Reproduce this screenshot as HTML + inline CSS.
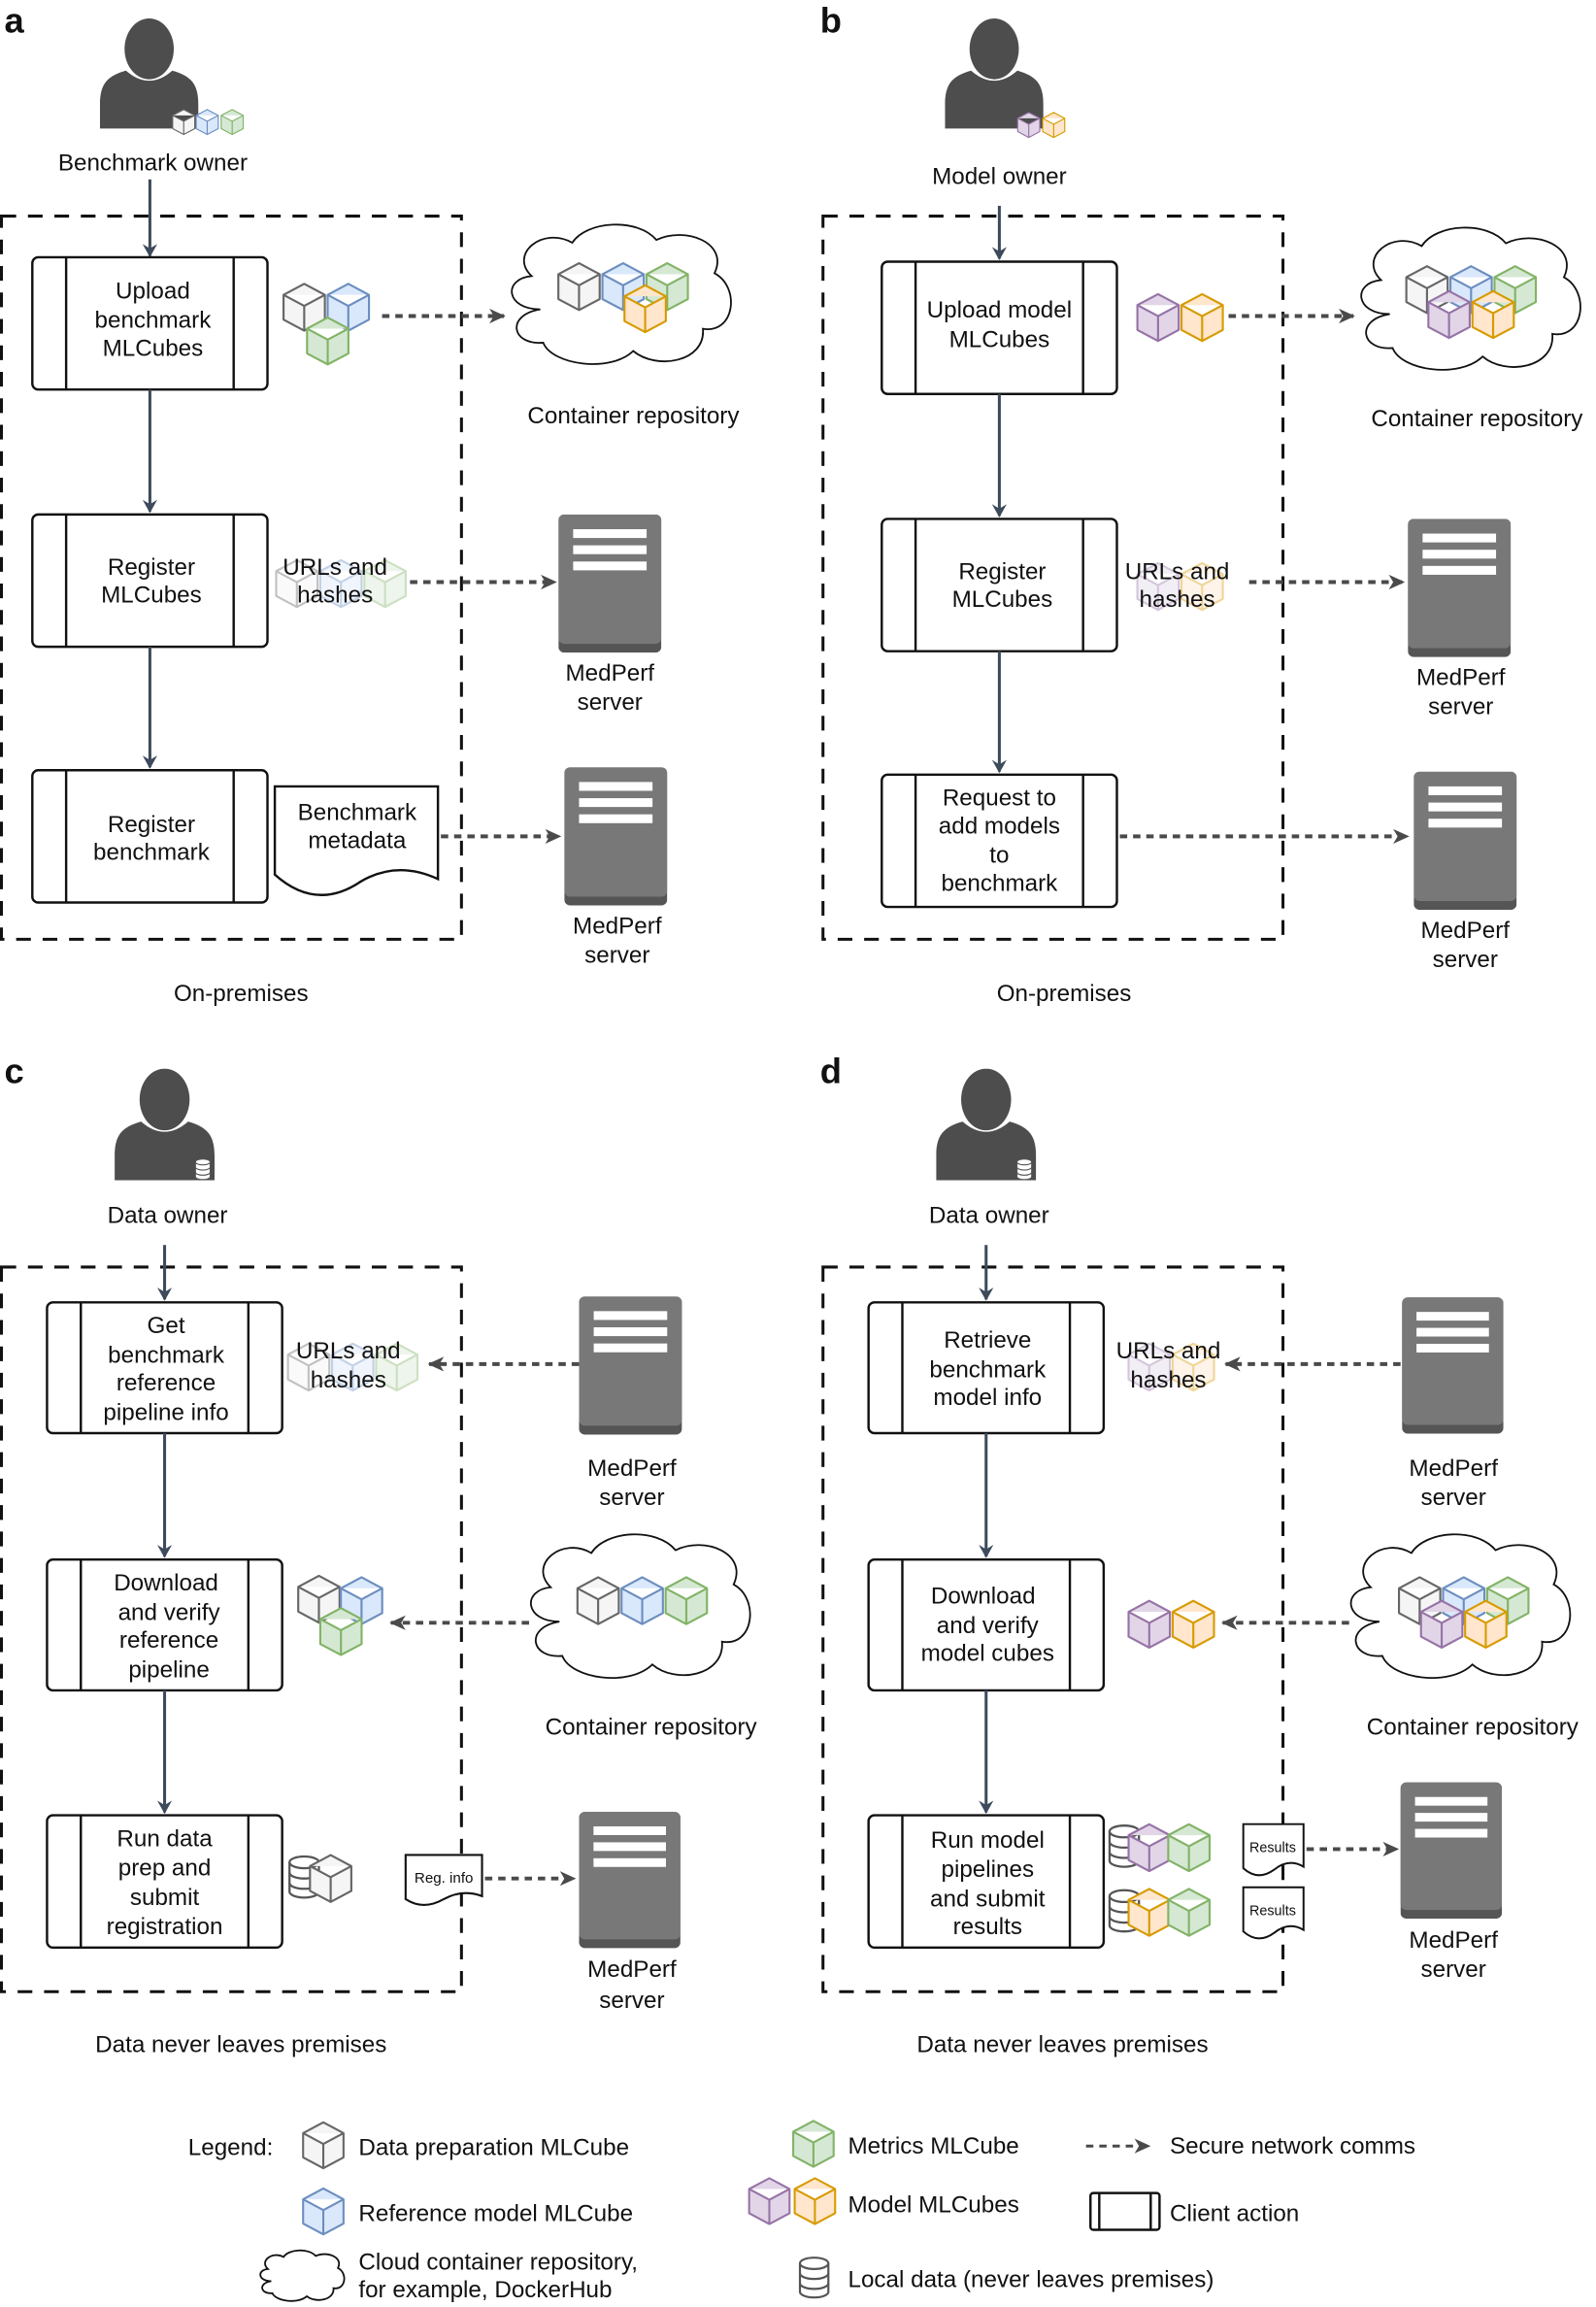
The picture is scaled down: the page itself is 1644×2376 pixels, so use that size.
<!DOCTYPE html>
<html><head><meta charset="utf-8"><style>
html,body{margin:0;padding:0;background:#fff;}
svg{display:block;}
text{font-family:"Liberation Sans",sans-serif;fill:#111;font-size:16px;}
.c{text-anchor:middle;}
.lbl{font-weight:bold;font-size:24px;}
.box{fill:#fff;stroke:#111;stroke-width:1.6;}
.ln{stroke:#111;stroke-width:1.6;}
.dash{fill:none;stroke:#111;stroke-width:2;stroke-dasharray:10,8;}
.sa{stroke:#3d4a5c;stroke-width:2;fill:none;}
.da{stroke:#4a4a4a;stroke-width:2.6;stroke-dasharray:5,4;fill:none;}
</style></head><body>
<svg width="1644" height="2376" viewBox="0 0 1086 1569.5" xmlns="http://www.w3.org/2000/svg">
<defs>
<marker id="ms" markerWidth="10" markerHeight="10" refX="8" refY="5" orient="auto" markerUnits="userSpaceOnUse"><path d="M0,0 L9,5 L0,10 L3,5 Z" fill="#3d4a5c"/></marker>
<marker id="md" markerWidth="12" markerHeight="12" refX="10" refY="6" orient="auto" markerUnits="userSpaceOnUse"><path d="M0,1 L11,6 L0,11 L3,6 Z" fill="#4a4a4a"/></marker>
<symbol id="cube" viewBox="-1 -1 32 36" overflow="visible"><path d="M15,0 L30,8 L30,26 L15,34 L0,26 L0,8 Z M0,8 L15,16 L30,8 M15,16 L15,34" stroke-linejoin="round"/></symbol>
<symbol id="person" viewBox="0 0 68 76"><ellipse cx="34" cy="21" rx="17" ry="21" fill="#4d4d4d"/><path d="M0,76 V60 C0,46 4,40 18,36 Q34,50 50,36 C64,40 68,46 68,60 V76 Z" fill="#4d4d4d"/></symbol>
<symbol id="server" viewBox="0 0 70 94"><rect x="0" y="0" width="70" height="94" rx="4" fill="#555"/><rect x="0" y="0" width="70" height="88" rx="4" fill="#787878"/><rect x="10" y="10" width="50" height="6" fill="#fff"/><rect x="10" y="21" width="50" height="6" fill="#fff"/><rect x="10" y="32" width="50" height="6" fill="#fff"/></symbol>
<symbol id="cloud" viewBox="0 -2 164 108" preserveAspectRatio="none" overflow="visible"><path d="M28,62 C4,62 2,40 22,38 C6,22 30,2 50,14 C60,-2 95,-4 108,12 C128,2 158,14 148,36 C166,46 162,80 140,76 C142,100 108,106 92,92 C76,108 36,102 30,86 C8,88 4,66 28,62 Z" fill="#fff" stroke="#111" stroke-width="1.8" vector-effect="non-scaling-stroke"/></symbol>
<symbol id="db" viewBox="0 0 22 30" overflow="visible"><path d="M1,5 V25 A10,4 0 0 0 21,25 V5" fill="#fff" stroke="#555" stroke-width="1.5"/><ellipse cx="11" cy="5" rx="10" ry="4" fill="#fff" stroke="#555" stroke-width="1.5"/><path d="M1,12 A10,4 0 0 0 21,12 M1,19 A10,4 0 0 0 21,19" fill="none" stroke="#555" stroke-width="1.5"/></symbol>
</defs>

<!-- ============ PANEL A ============ -->
<text x="3" y="22" class="lbl">a</text>
<use href="#person" x="68" y="12" width="67" height="76"/>
<g stroke-width="1.5"><use href="#cube" x="117" y="74" width="16" height="18" fill="#f5f5f5" stroke="#666"/><use href="#cube" x="133" y="74" width="16" height="18" fill="#dae8fc" stroke="#6c8ebf"/><use href="#cube" x="150" y="74" width="16" height="18" fill="#d5e8d4" stroke="#82b366"/></g>
<text x="104" y="116" class="c">Benchmark owner</text>
<rect x="1" y="147" width="313" height="492" class="dash"/>
<line x1="102" y1="122" x2="102" y2="174" class="sa" marker-end="url(#ms)"/>
<g><rect x="22" y="175" width="160" height="90" rx="4" class="box"/><line x1="45" y1="175" x2="45" y2="265" class="ln"/><line x1="159" y1="175" x2="159" y2="265" class="ln"/>
<text x="104" y="203" class="c">Upload</text><text x="104" y="223" class="c">benchmark</text><text x="104" y="242" class="c">MLCubes</text></g>
<line x1="102" y1="265" x2="102" y2="348" class="sa" marker-end="url(#ms)"/>
<g><rect x="22" y="350" width="160" height="90" rx="4" class="box"/><line x1="45" y1="350" x2="45" y2="440" class="ln"/><line x1="159" y1="350" x2="159" y2="440" class="ln"/>
<text x="103" y="391" class="c">Register</text><text x="103" y="410" class="c">MLCubes</text></g>
<line x1="102" y1="440" x2="102" y2="522" class="sa" marker-end="url(#ms)"/>
<g><rect x="22" y="524" width="160" height="90" rx="4" class="box"/><line x1="45" y1="524" x2="45" y2="614" class="ln"/><line x1="159" y1="524" x2="159" y2="614" class="ln"/>
<text x="103" y="566" class="c">Register</text><text x="103" y="585" class="c">benchmark</text></g>
<g stroke-width="1.5"><use href="#cube" x="192" y="192" width="30" height="34" fill="#f5f5f5" stroke="#666"/><use href="#cube" x="222" y="192" width="30" height="34" fill="#dae8fc" stroke="#6c8ebf"/><use href="#cube" x="208" y="215" width="30" height="34" fill="#d5e8d4" stroke="#82b366"/></g>
<line x1="260" y1="215" x2="343" y2="215" class="da" marker-end="url(#md)"/>
<use href="#cloud" x="340" y="150" width="162" height="102"/>
<g stroke-width="1.5"><use href="#cube" x="379" y="178" width="30" height="34" fill="#f5f5f5" stroke="#666"/><use href="#cube" x="409" y="178" width="30" height="34" fill="#dae8fc" stroke="#6c8ebf"/><use href="#cube" x="439" y="178" width="30" height="34" fill="#d5e8d4" stroke="#82b366"/><use href="#cube" x="424" y="193" width="30" height="34" fill="#ffe6cc" stroke="#d79b00"/></g>
<text x="431" y="288" class="c">Container repository</text>
<g stroke-width="1.5" opacity="0.4"><use href="#cube" x="187" y="380" width="30" height="34" fill="#f5f5f5" stroke="#666"/><use href="#cube" x="217" y="380" width="30" height="34" fill="#dae8fc" stroke="#6c8ebf"/><use href="#cube" x="247" y="380" width="30" height="34" fill="#d5e8d4" stroke="#82b366"/></g>
<text x="228" y="391" class="c">URLs and</text><text x="228" y="410" class="c">hashes</text>
<line x1="279" y1="396" x2="378" y2="396" class="da" marker-end="url(#md)"/>
<use href="#server" x="380" y="350" width="70" height="94"/>
<text x="415" y="463" class="c">MedPerf</text><text x="415" y="483" class="c">server</text>
<path d="M187,535 H298 V598 Q270,585 245,600 Q215,620 187,595 Z" fill="#fff" stroke="#111" stroke-width="1.6"/>
<text x="243" y="558" class="c">Benchmark</text><text x="243" y="577" class="c">metadata</text>
<line x1="300" y1="569" x2="381" y2="569" class="da" marker-end="url(#md)"/>
<use href="#server" x="384" y="522" width="70" height="94"/>
<text x="420" y="635" class="c">MedPerf</text><text x="420" y="655" class="c">server</text>
<text x="164" y="681" class="c">On-premises</text>

<!-- ============ PANEL B ============ -->
<text x="558" y="22" class="lbl">b</text>
<use href="#person" x="643" y="12" width="67" height="76"/>
<g stroke-width="1.5"><use href="#cube" x="692" y="76" width="16" height="18" fill="#e1d5e7" stroke="#9673a6"/><use href="#cube" x="709" y="76" width="16" height="18" fill="#ffe6cc" stroke="#d79b00"/></g>
<text x="680" y="125" class="c">Model owner</text>
<rect x="560" y="147" width="313" height="492" class="dash"/>
<line x1="680" y1="140" x2="680" y2="176" class="sa" marker-end="url(#ms)"/>
<g><rect x="600" y="178" width="160" height="90" rx="4" class="box"/><line x1="623" y1="178" x2="623" y2="268" class="ln"/><line x1="737" y1="178" x2="737" y2="268" class="ln"/>
<text x="680" y="216" class="c">Upload model</text><text x="680" y="236" class="c">MLCubes</text></g>
<line x1="680" y1="268" x2="680" y2="351" class="sa" marker-end="url(#ms)"/>
<g><rect x="600" y="353" width="160" height="90" rx="4" class="box"/><line x1="623" y1="353" x2="623" y2="443" class="ln"/><line x1="737" y1="353" x2="737" y2="443" class="ln"/>
<text x="682" y="394" class="c">Register</text><text x="682" y="413" class="c">MLCubes</text></g>
<line x1="680" y1="443" x2="680" y2="525" class="sa" marker-end="url(#ms)"/>
<g><rect x="600" y="527" width="160" height="90" rx="4" class="box"/><line x1="623" y1="527" x2="623" y2="617" class="ln"/><line x1="737" y1="527" x2="737" y2="617" class="ln"/>
<text x="680" y="548" class="c">Request to</text><text x="680" y="567" class="c">add models</text><text x="680" y="587" class="c">to</text><text x="680" y="606" class="c">benchmark</text></g>
<g stroke-width="1.5"><use href="#cube" x="773" y="199" width="30" height="34" fill="#e1d5e7" stroke="#9673a6"/><use href="#cube" x="803" y="199" width="30" height="34" fill="#ffe6cc" stroke="#d79b00"/></g>
<line x1="836" y1="215" x2="921" y2="215" class="da" marker-end="url(#md)"/>
<use href="#cloud" x="918" y="152" width="162" height="104"/>
<g stroke-width="1.5"><use href="#cube" x="956" y="180" width="30" height="34" fill="#f5f5f5" stroke="#666"/><use href="#cube" x="986" y="180" width="30" height="34" fill="#dae8fc" stroke="#6c8ebf"/><use href="#cube" x="1016" y="180" width="30" height="34" fill="#d5e8d4" stroke="#82b366"/><use href="#cube" x="971" y="197" width="30" height="34" fill="#e1d5e7" stroke="#9673a6"/><use href="#cube" x="1001" y="197" width="30" height="34" fill="#ffe6cc" stroke="#d79b00"/></g>
<text x="1005" y="290" class="c">Container repository</text>
<g stroke-width="1.5" opacity="0.4"><use href="#cube" x="773" y="382" width="30" height="34" fill="#e1d5e7" stroke="#9673a6"/><use href="#cube" x="803" y="382" width="30" height="34" fill="#ffe6cc" stroke="#d79b00"/></g>
<text x="801" y="394" class="c">URLs and</text><text x="801" y="413" class="c">hashes</text>
<line x1="850" y1="396" x2="955" y2="396" class="da" marker-end="url(#md)"/>
<use href="#server" x="958" y="353" width="70" height="94"/>
<text x="994" y="466" class="c">MedPerf</text><text x="994" y="486" class="c">server</text>
<line x1="762" y1="569" x2="958" y2="569" class="da" marker-end="url(#md)"/>
<use href="#server" x="962" y="525" width="70" height="94"/>
<text x="997" y="638" class="c">MedPerf</text><text x="997" y="658" class="c">server</text>
<text x="724" y="681" class="c">On-premises</text>

<!-- ============ PANEL C ============ -->
<text x="3" y="737" class="lbl">c</text>
<use href="#person" x="78" y="727" width="68" height="76"/>
<use href="#db" x="132" y="788" width="12" height="15"/>
<text x="114" y="832" class="c">Data owner</text>
<rect x="1" y="862" width="313" height="493" class="dash"/>
<line x1="112" y1="847" x2="112" y2="884" class="sa" marker-end="url(#ms)"/>
<g><rect x="32" y="886" width="160" height="89" rx="4" class="box"/><line x1="55" y1="886" x2="55" y2="975" class="ln"/><line x1="169" y1="886" x2="169" y2="975" class="ln"/>
<text x="113" y="907" class="c">Get</text><text x="113" y="927" class="c">benchmark</text><text x="113" y="946" class="c">reference</text><text x="113" y="966" class="c">pipeline info</text></g>
<line x1="112" y1="975" x2="112" y2="1059" class="sa" marker-end="url(#ms)"/>
<g><rect x="32" y="1061" width="160" height="89" rx="4" class="box"/><line x1="55" y1="1061" x2="55" y2="1150" class="ln"/><line x1="169" y1="1061" x2="169" y2="1150" class="ln"/>
<text x="113" y="1082" class="c">Download</text><text x="115" y="1102" class="c">and verify</text><text x="115" y="1121" class="c">reference</text><text x="115" y="1141" class="c">pipeline</text></g>
<line x1="112" y1="1150" x2="112" y2="1233" class="sa" marker-end="url(#ms)"/>
<g><rect x="32" y="1235" width="160" height="90" rx="4" class="box"/><line x1="55" y1="1235" x2="55" y2="1325" class="ln"/><line x1="169" y1="1235" x2="169" y2="1325" class="ln"/>
<text x="112" y="1256" class="c">Run data</text><text x="112" y="1276" class="c">prep and</text><text x="112" y="1296" class="c">submit</text><text x="112" y="1316" class="c">registration</text></g>
<g stroke-width="1.5" opacity="0.4"><use href="#cube" x="195" y="913" width="30" height="34" fill="#f5f5f5" stroke="#666"/><use href="#cube" x="225" y="913" width="30" height="34" fill="#dae8fc" stroke="#6c8ebf"/><use href="#cube" x="255" y="913" width="30" height="34" fill="#d5e8d4" stroke="#82b366"/></g>
<text x="237" y="924" class="c">URLs and</text><text x="237" y="944" class="c">hashes</text>
<line x1="394" y1="928" x2="292" y2="928" class="da" marker-end="url(#md)"/>
<use href="#server" x="394" y="882" width="70" height="94"/>
<text x="430" y="1004" class="c">MedPerf</text><text x="430" y="1024" class="c">server</text>
<g stroke-width="1.5"><use href="#cube" x="202" y="1071" width="30" height="34" fill="#f5f5f5" stroke="#666"/><use href="#cube" x="231" y="1072" width="30" height="34" fill="#dae8fc" stroke="#6c8ebf"/><use href="#cube" x="217" y="1093" width="30" height="34" fill="#d5e8d4" stroke="#82b366"/></g>
<line x1="360" y1="1104" x2="266" y2="1104" class="da" marker-end="url(#md)"/>
<use href="#cloud" x="353" y="1041" width="162" height="105"/>
<g stroke-width="1.5"><use href="#cube" x="392" y="1072" width="30" height="34" fill="#f5f5f5" stroke="#666"/><use href="#cube" x="422" y="1072" width="30" height="34" fill="#dae8fc" stroke="#6c8ebf"/><use href="#cube" x="452" y="1072" width="30" height="34" fill="#d5e8d4" stroke="#82b366"/></g>
<text x="443" y="1180" class="c">Container repository</text>
<use href="#db" x="196" y="1262" width="22" height="30"/>
<g stroke-width="1.5"><use href="#cube" x="210" y="1261" width="30" height="34" fill="#f5f5f5" stroke="#666"/></g>
<path d="M276,1262 H328 V1290 Q315,1285 302,1292 Q288,1300 276,1292 Z" fill="#fff" stroke="#111" stroke-width="1.4"/>
<text x="302" y="1281" class="c" style="font-size:10px">Reg. info</text>
<line x1="330" y1="1278" x2="391" y2="1278" class="da" marker-end="url(#md)"/>
<use href="#server" x="394" y="1232" width="69" height="94"/>
<text x="430" y="1345" class="c">MedPerf</text><text x="430" y="1366" class="c">server</text>
<text x="164" y="1396" class="c">Data never leaves premises</text>

<!-- ============ PANEL D ============ -->
<text x="558" y="737" class="lbl">d</text>
<use href="#person" x="637" y="727" width="68" height="76"/>
<use href="#db" x="691" y="788" width="12" height="15"/>
<text x="673" y="832" class="c">Data owner</text>
<rect x="560" y="862" width="313" height="493" class="dash"/>
<line x1="671" y1="847" x2="671" y2="884" class="sa" marker-end="url(#ms)"/>
<g><rect x="591" y="886" width="160" height="89" rx="4" class="box"/><line x1="614" y1="886" x2="614" y2="975" class="ln"/><line x1="728" y1="886" x2="728" y2="975" class="ln"/>
<text x="672" y="917" class="c">Retrieve</text><text x="672" y="937" class="c">benchmark</text><text x="672" y="956" class="c">model info</text></g>
<line x1="671" y1="975" x2="671" y2="1059" class="sa" marker-end="url(#ms)"/>
<g><rect x="591" y="1061" width="160" height="89" rx="4" class="box"/><line x1="614" y1="1061" x2="614" y2="1150" class="ln"/><line x1="728" y1="1061" x2="728" y2="1150" class="ln"/>
<text x="669" y="1091" class="c">Download</text><text x="672" y="1111" class="c">and verify</text><text x="672" y="1130" class="c">model cubes</text></g>
<line x1="671" y1="1150" x2="671" y2="1233" class="sa" marker-end="url(#ms)"/>
<g><rect x="591" y="1235" width="160" height="90" rx="4" class="box"/><line x1="614" y1="1235" x2="614" y2="1325" class="ln"/><line x1="728" y1="1235" x2="728" y2="1325" class="ln"/>
<text x="672" y="1257" class="c">Run model</text><text x="672" y="1277" class="c">pipelines</text><text x="672" y="1297" class="c">and submit</text><text x="672" y="1316" class="c">results</text></g>
<g stroke-width="1.5" opacity="0.4"><use href="#cube" x="767" y="913" width="30" height="34" fill="#e1d5e7" stroke="#9673a6"/><use href="#cube" x="797" y="913" width="30" height="34" fill="#ffe6cc" stroke="#d79b00"/></g>
<text x="795" y="924" class="c">URLs and</text><text x="795" y="944" class="c">hashes</text>
<line x1="953" y1="928" x2="834" y2="928" class="da" marker-end="url(#md)"/>
<use href="#server" x="954" y="882" width="69" height="94"/>
<text x="989" y="1004" class="c">MedPerf</text><text x="989" y="1024" class="c">server</text>
<g stroke-width="1.5"><use href="#cube" x="767" y="1088" width="30" height="34" fill="#e1d5e7" stroke="#9673a6"/><use href="#cube" x="797" y="1088" width="30" height="34" fill="#ffe6cc" stroke="#d79b00"/></g>
<line x1="918" y1="1104" x2="832" y2="1104" class="da" marker-end="url(#md)"/>
<use href="#cloud" x="911" y="1041" width="162" height="105"/>
<g stroke-width="1.5"><use href="#cube" x="951" y="1072" width="30" height="34" fill="#f5f5f5" stroke="#666"/><use href="#cube" x="981" y="1072" width="30" height="34" fill="#dae8fc" stroke="#6c8ebf"/><use href="#cube" x="1011" y="1072" width="30" height="34" fill="#d5e8d4" stroke="#82b366"/><use href="#cube" x="966" y="1088" width="30" height="34" fill="#e1d5e7" stroke="#9673a6"/><use href="#cube" x="996" y="1088" width="30" height="34" fill="#ffe6cc" stroke="#d79b00"/></g>
<text x="1002" y="1180" class="c">Container repository</text>
<use href="#db" x="754" y="1241" width="22" height="30"/>
<g stroke-width="1.5"><use href="#cube" x="767" y="1240" width="30" height="34" fill="#e1d5e7" stroke="#9673a6"/><use href="#cube" x="794" y="1240" width="30" height="34" fill="#d5e8d4" stroke="#82b366"/></g>
<use href="#db" x="754" y="1285" width="22" height="30"/>
<g stroke-width="1.5"><use href="#cube" x="767" y="1284" width="30" height="34" fill="#ffe6cc" stroke="#d79b00"/><use href="#cube" x="794" y="1284" width="30" height="34" fill="#d5e8d4" stroke="#82b366"/></g>
<path d="M846,1241 H887 V1270 Q877,1264 867,1272 Q856,1280 846,1271 Z" fill="#fff" stroke="#111" stroke-width="1.3"/>
<text x="866" y="1260" class="c" style="font-size:9.5px">Results</text>
<path d="M846,1284 H887 V1313 Q877,1307 867,1315 Q856,1323 846,1314 Z" fill="#fff" stroke="#111" stroke-width="1.3"/>
<text x="866" y="1303" class="c" style="font-size:9.5px">Results</text>
<line x1="889" y1="1258" x2="951" y2="1258" class="da" marker-end="url(#md)"/>
<use href="#server" x="953" y="1212" width="69" height="94"/>
<text x="989" y="1325" class="c">MedPerf</text><text x="989" y="1345" class="c">server</text>
<text x="723" y="1396" class="c">Data never leaves premises</text>

<!-- ============ LEGEND ============ -->
<text x="128" y="1466">Legend:</text>
<g stroke-width="1.5"><use href="#cube" x="205" y="1443" width="30" height="33" fill="#f5f5f5" stroke="#666"/></g>
<text x="244" y="1466">Data preparation MLCube</text>
<g stroke-width="1.5"><use href="#cube" x="205" y="1488" width="30" height="33" fill="#dae8fc" stroke="#6c8ebf"/></g>
<text x="244" y="1511">Reference model MLCube</text>
<use href="#cloud" x="174" y="1530" width="62" height="37"/>
<text x="244" y="1544">Cloud container repository,</text>
<text x="244" y="1563">for example, DockerHub</text>
<g stroke-width="1.5"><use href="#cube" x="538" y="1442" width="31" height="33" fill="#d5e8d4" stroke="#82b366"/></g>
<text x="577" y="1465">Metrics MLCube</text>
<g stroke-width="1.5"><use href="#cube" x="508" y="1481" width="31" height="33" fill="#e1d5e7" stroke="#9673a6"/><use href="#cube" x="539" y="1481" width="31" height="33" fill="#ffe6cc" stroke="#d79b00"/></g>
<text x="577" y="1505">Model MLCubes</text>
<use href="#db" x="542" y="1535" width="24" height="29"/>
<text x="577" y="1556">Local data (never leaves premises)</text>
<line x1="739" y1="1460" x2="782" y2="1460" class="da" marker-end="url(#md)" style="stroke-width:2"/>
<text x="796" y="1465">Secure network comms</text>
<rect x="742" y="1492" width="47" height="25" rx="2" class="box"/><line x1="748" y1="1492" x2="748" y2="1517" class="ln"/><line x1="783" y1="1492" x2="783" y2="1517" class="ln"/>
<text x="796" y="1511">Client action</text>
</svg>
</body></html>
